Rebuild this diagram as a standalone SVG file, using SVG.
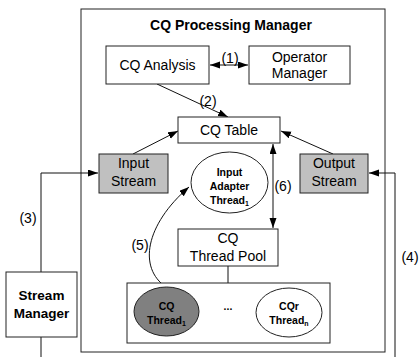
<svg xmlns="http://www.w3.org/2000/svg" width="420" height="357" viewBox="0 0 420 357">
<defs>
<marker id="ah" markerUnits="userSpaceOnUse" markerWidth="11" markerHeight="8" refX="10" refY="3.5" orient="auto-start-reverse"><path d="M0,0 L10,3.5 L0,7 z" fill="#000"/></marker>
<style>
text{font-family:"Liberation Sans",Arial,sans-serif;fill:#000;text-anchor:middle}
.t{font-size:14px}
.b{font-weight:bold}
.box{fill:#fff;stroke:#222;stroke-width:1}
.gray{fill:#c0c0c0;stroke:#222;stroke-width:1}
.con{fill:none;stroke:#111;stroke-width:1}
.sm{font-size:10.5px;font-weight:bold}
</style>
</defs>
<rect width="420" height="357" fill="#fff"/>
<g id="processing-manager">
<rect x="81" y="9" width="304" height="343" class="box"/>
<text x="231" y="30" class="t b">CQ Processing Manager</text>
</g>
<g id="connectors">
<path d="M41,357 V173 H98" class="con" marker-end="url(#ah)"/>
<path d="M395,357 V173 H369" class="con" marker-end="url(#ah)"/>
<line x1="210" y1="65" x2="248" y2="65" class="con" marker-start="url(#ah)" marker-end="url(#ah)"/>
<line x1="157" y1="84" x2="228" y2="117" class="con" marker-end="url(#ah)"/>
<line x1="133" y1="154" x2="178" y2="131" class="con" marker-end="url(#ah)"/>
<line x1="333" y1="154" x2="281" y2="131" class="con" marker-end="url(#ah)"/>
<line x1="273" y1="144" x2="273" y2="228" class="con" marker-start="url(#ah)" marker-end="url(#ah)"/>
<line x1="228" y1="266" x2="228" y2="283" class="con"/>
<path d="M166,287 C138,268 145,225 189,187" class="con" marker-end="url(#ah)"/>
<text x="230" y="63" class="t">(1)</text>
<text x="208" y="106" class="t">(2)</text>
<text x="28" y="223" class="t">(3)</text>
<text x="410" y="262" class="t" font-size="13">(4)</text>
<text x="140" y="250" class="t">(5)</text>
<text x="283" y="191" class="t">(6)</text>
</g>
<g id="cq-analysis">
<rect x="106" y="46" width="103" height="38" class="box"/>
<text x="157.5" y="70" class="t">CQ Analysis</text>
</g>
<g id="operator-manager">
<rect x="249" y="46" width="101" height="38" class="box"/>
<text x="299.5" y="62" class="t">Operator</text>
<text x="299.5" y="78" class="t">Manager</text>
</g>
<g id="cq-table">
<rect x="178" y="117" width="102" height="26" class="box"/>
<text x="229" y="135" class="t">CQ Table</text>
</g>
<g id="input-stream">
<rect x="99" y="154" width="69" height="39" class="gray"/>
<text x="133.5" y="168" class="t">Input</text>
<text x="133.5" y="186" class="t">Stream</text>
</g>
<g id="output-stream">
<rect x="300" y="154" width="68" height="39" class="gray"/>
<text x="334" y="168" class="t">Output</text>
<text x="334" y="186" class="t">Stream</text>
</g>
<g id="input-adapter-thread">
<ellipse cx="229.5" cy="182.5" rx="38.5" ry="30.5" class="box"/>
<text x="229.5" y="176" class="sm">Input</text>
<text x="229.5" y="190" class="sm">Adapter</text>
<text x="229.5" y="204" class="sm">Thread<tspan font-size="7" dy="2">1</tspan></text>
</g>
<g id="cq-thread-pool">
<rect x="178" y="229" width="100" height="37" class="box"/>
<text x="228" y="243" class="t">CQ</text>
<text x="228" y="261" class="t">Thread Pool</text>
</g>
<g id="thread-group">
<rect x="127" y="283" width="203" height="60" class="box"/>
<text x="228" y="310" class="sm">...</text>
</g>
<g id="cq-thread-1">
<ellipse cx="166.5" cy="311.5" rx="32.5" ry="24.5" fill="#808080" stroke="#222"/>
<text x="166.5" y="310" class="sm">CQ</text>
<text x="166.5" y="324" class="sm">Thread<tspan font-size="7" dy="2">1</tspan></text>
</g>
<g id="cq-thread-n">
<ellipse cx="289" cy="312.5" rx="33" ry="24.5" class="box"/>
<text x="289" y="310" class="sm">CQr</text>
<text x="289" y="324" class="sm">Thread<tspan font-size="7" dy="2">n</tspan></text>
</g>
<g id="stream-manager">
<rect x="6" y="272" width="71" height="65" class="box"/>
<text x="41.5" y="300" class="b" font-size="13.5">Stream</text>
<text x="41.5" y="318" class="b" font-size="13.5">Manager</text>
</g>
</svg>
